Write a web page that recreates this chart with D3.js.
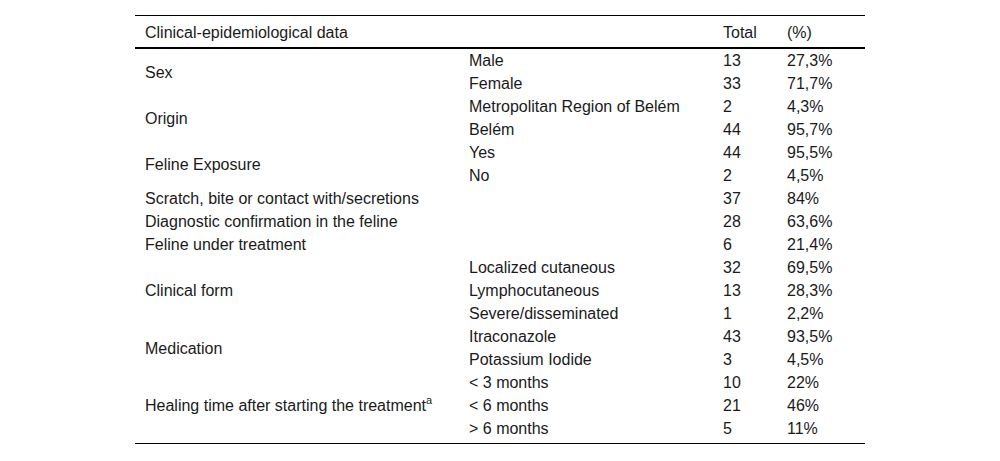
<!DOCTYPE html>
<html><head><meta charset="utf-8">
<script src="https://cdn.jsdelivr.net/npm/d3@7"></script>
<style>
html,body{margin:0;padding:0;background:#fff;}
svg{display:block;font-family:"Liberation Sans",Arial,sans-serif;}
</style></head>
<body>
<svg id="c" width="1000" height="461"></svg>
<script>
const headers = ["Clinical-epidemiological data", "", "Total", "(%)"];
const groups = ["Sex","Origin","Feline Exposure","Scratch, bite or contact with/secretions","Diagnostic confirmation in the feline","Feline under treatment","Clinical form","Medication","Healing time after starting the treatment"];
const groupSup = ["","","","","","","","","a"];
const groupSize = [2,2,2,1,1,1,3,2,3];
const subcats = ["Male","Female","Metropolitan Region of Belém","Belém","Yes","No","","","","Localized cutaneous","Lymphocutaneous","Severe/disseminated","Itraconazole","Potassium Iodide","< 3 months","< 6 months","> 6 months"];
const totals = [13,33,2,44,44,2,37,28,6,32,13,1,43,3,10,21,5];
const percents = ["27,3%","71,7%","4,3%","95,7%","95,5%","4,5%","84%","63,6%","21,4%","69,5%","28,3%","2,2%","93,5%","4,5%","22%","46%","11%"];

const svg = d3.select("#c");
const col = d3.scaleOrdinal().domain([0,1,2,3]).range([145,469,723,787]);
const nRows = subcats.length;
const y = d3.scaleLinear().domain([0,nRows]).range([49,440]);
const fs = 16, color = "#1a1a1a";
const left = 135, right = 865;
const off = 5.5;

svg.append("line").attr("x1",left).attr("x2",right).attr("y1",15.5).attr("y2",15.5).attr("stroke","#000").attr("stroke-width",1);
svg.append("line").attr("x1",left).attr("x2",right).attr("y1",48).attr("y2",48).attr("stroke","#000").attr("stroke-width",2);
svg.append("line").attr("x1",left).attr("x2",right).attr("y1",443.5).attr("y2",443.5).attr("stroke","#000").attr("stroke-width",1);

svg.selectAll("text.h").data(headers).join("text").attr("class","h")
  .attr("x",(d,i)=>col(i)).attr("y",38).attr("font-size",fs).attr("fill",color).text(d=>d);

let start=0;
const gdata = groups.map((g,i)=>{const o={name:g,sup:groupSup[i],start:start,size:groupSize[i]}; start+=groupSize[i]; return o;});
const gt = svg.selectAll("text.g").data(gdata).join("text").attr("class","g")
  .attr("x",col(0)).attr("y",d=>y(d.start + d.size/2)+off).attr("font-size",fs).attr("fill",color);
gt.append("tspan").text(d=>d.name);
gt.filter(d=>d.sup).append("tspan").attr("font-size",11).attr("dy",-7).text(d=>d.sup);

const rows = subcats.map((s,i)=>({s:s,t:totals[i],p:percents[i],i:i}));
svg.selectAll("text.s").data(rows).join("text").attr("class","s")
  .attr("x",col(1)).attr("y",d=>y(d.i+0.5)+off).attr("font-size",fs).attr("fill",color).text(d=>d.s);
svg.selectAll("text.t").data(rows).join("text").attr("class","t")
  .attr("x",col(2)).attr("y",d=>y(d.i+0.5)+off).attr("font-size",fs).attr("fill",color).text(d=>d.t);
svg.selectAll("text.p").data(rows).join("text").attr("class","p")
  .attr("x",col(3)).attr("y",d=>y(d.i+0.5)+off).attr("font-size",fs).attr("fill",color).text(d=>d.p);
</script>
</body></html>
